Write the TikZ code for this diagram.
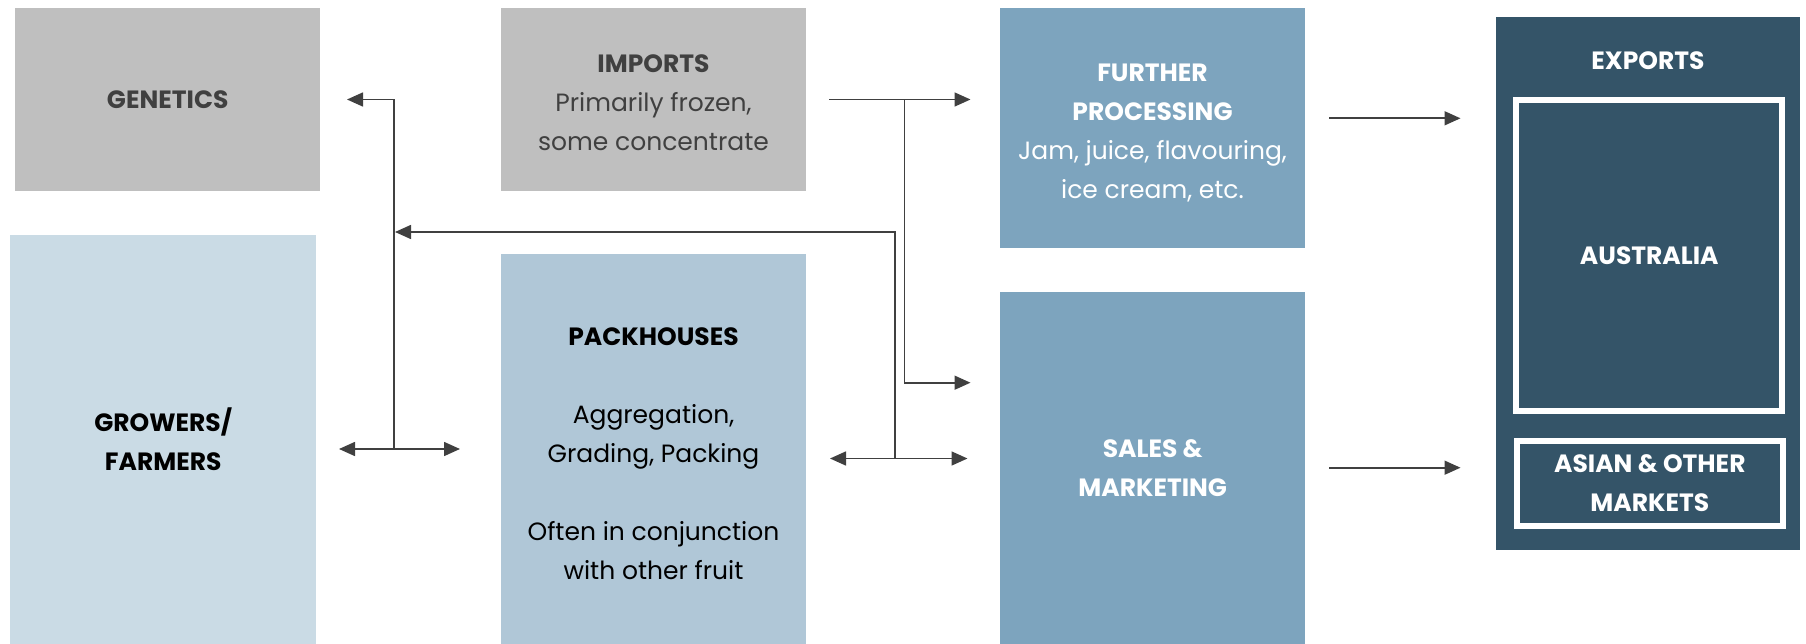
\documentclass[tikz,border=0pt]{standalone}
\usepackage{fontspec}
\setmainfont{Poppins}
\usetikzlibrary{arrows.meta}
\definecolor{cgrey}{HTML}{BFBFBF}
\definecolor{cgrow}{HTML}{CADBE5}
\definecolor{cpack}{HTML}{B0C7D7}
\definecolor{cmid}{HTML}{7DA4BE}
\definecolor{cdark}{HTML}{345468}
\definecolor{ctxt}{HTML}{404040}
\definecolor{cline}{HTML}{404040}
\tikzset{
  x=1bp, y=-1bp,
  box/.style={anchor=north west, inner sep=0pt, align=center, font=\fontsize{25bp}{39bp}\selectfont},
  txt/.style={inner sep=0pt, align=center, font=\fontsize{25bp}{39bp}\selectfont},
  ttl/.style={font=\fontsize{25bp}{39bp}\selectfont\bfseries},
  arr/.style={draw=cline, line width=1.6bp, -{Triangle[length=16bp,width=14bp]}},
  dbl/.style={draw=cline, line width=1.6bp, {Triangle[length=16bp,width=14bp]}-{Triangle[length=16bp,width=14bp]}},
  inner/.style={draw=white, line width=6bp, fill=cdark, inner sep=0pt, text=white, align=center, font=\fontsize{25bp}{39bp}\selectfont\bfseries}
}
\begin{document}
\begin{tikzpicture}
\useasboundingbox (0,0) rectangle (1806,644);
% boxes
\node[box, fill=cgrey, minimum width=305bp, minimum height=183bp, text=ctxt] (gen) at (15,8) {\bfseries GENETICS};
\node[box, fill=cgrey, minimum width=305bp, minimum height=183bp] (imp) at (501,8) {};
\node[txt, text=ctxt] (imptxt) at (653.5,102.5) {\bfseries IMPORTS\\Primarily frozen,\\some concentrate};
\node[box, fill=cgrow, minimum width=306bp, minimum height=409bp, text=black] (grow) at (10,235) {\bfseries GROWERS/\\\bfseries FARMERS};
\node[box, fill=cpack, minimum width=305bp, minimum height=390bp] (pack) at (501,254) {};
\node[txt, text=black] (packtxt) at (653.5,454) {\bfseries PACKHOUSES\\[39bp]Aggregation,\\Grading, Packing\\[39bp]Often in conjunction\\with other fruit};
\node[box, fill=cmid, minimum width=305bp, minimum height=240bp] (fp) at (1000,8) {};
\node[txt, text=white] (fptxt) at (1152.5,133.5) {\bfseries FURTHER\\\bfseries PROCESSING\\Jam, juice, flavouring,\\ice cream, etc.};
\node[box, fill=cmid, minimum width=305bp, minimum height=352bp, text=white] (sm) at (1000,292) {\bfseries SALES \&\\\bfseries MARKETING};
\node[box, fill=cdark, minimum width=304bp, minimum height=533bp] (exp) at (1496,17) {};
\node[ttl, text=white, inner sep=0pt] (exptxt) at (1648,61) {EXPORTS};
\node[inner, minimum width=266bp, minimum height=311bp, anchor=center] (aus) at (1649.3,255.8) {AUSTRALIA};
\node[inner, minimum width=266bp, minimum height=85bp, anchor=center] (asia) at (1649.8,483) {ASIAN \& OTHER\\MARKETS};
% connectors
\coordinate (gpL) at (339,449);
\coordinate (gpR) at (460,449);
\coordinate (gj) at (394,449);
\coordinate (genin) at (347,99.5);
\coordinate (psL) at (830,458.5);
\coordinate (psR) at (967.5,458.5);
\coordinate (pj) at (895,458.5);
\coordinate (backin) at (395,232);
\coordinate (impout) at (829,99.5);
\coordinate (fpin) at (970.5,99.5);
\coordinate (ij) at (904.6,99.5);
\coordinate (smin) at (970.5,382.7);
\coordinate (fpout) at (1329,118.3);
\coordinate (ausin) at (1460.5,118.3);
\coordinate (smout) at (1329,467.7);
\coordinate (asiain) at (1460.5,467.7);
\draw[dbl] (gpL) -- (gpR);
\draw[arr] (gj) |- (genin);
\draw[dbl] (psL) -- (psR);
\draw[arr] (pj) |- (backin);
\draw[arr] (impout) -- (fpin);
\draw[arr] (ij) |- (smin);
\draw[arr] (fpout) -- (ausin);
\draw[arr] (smout) -- (asiain);
\end{tikzpicture}
\end{document}
